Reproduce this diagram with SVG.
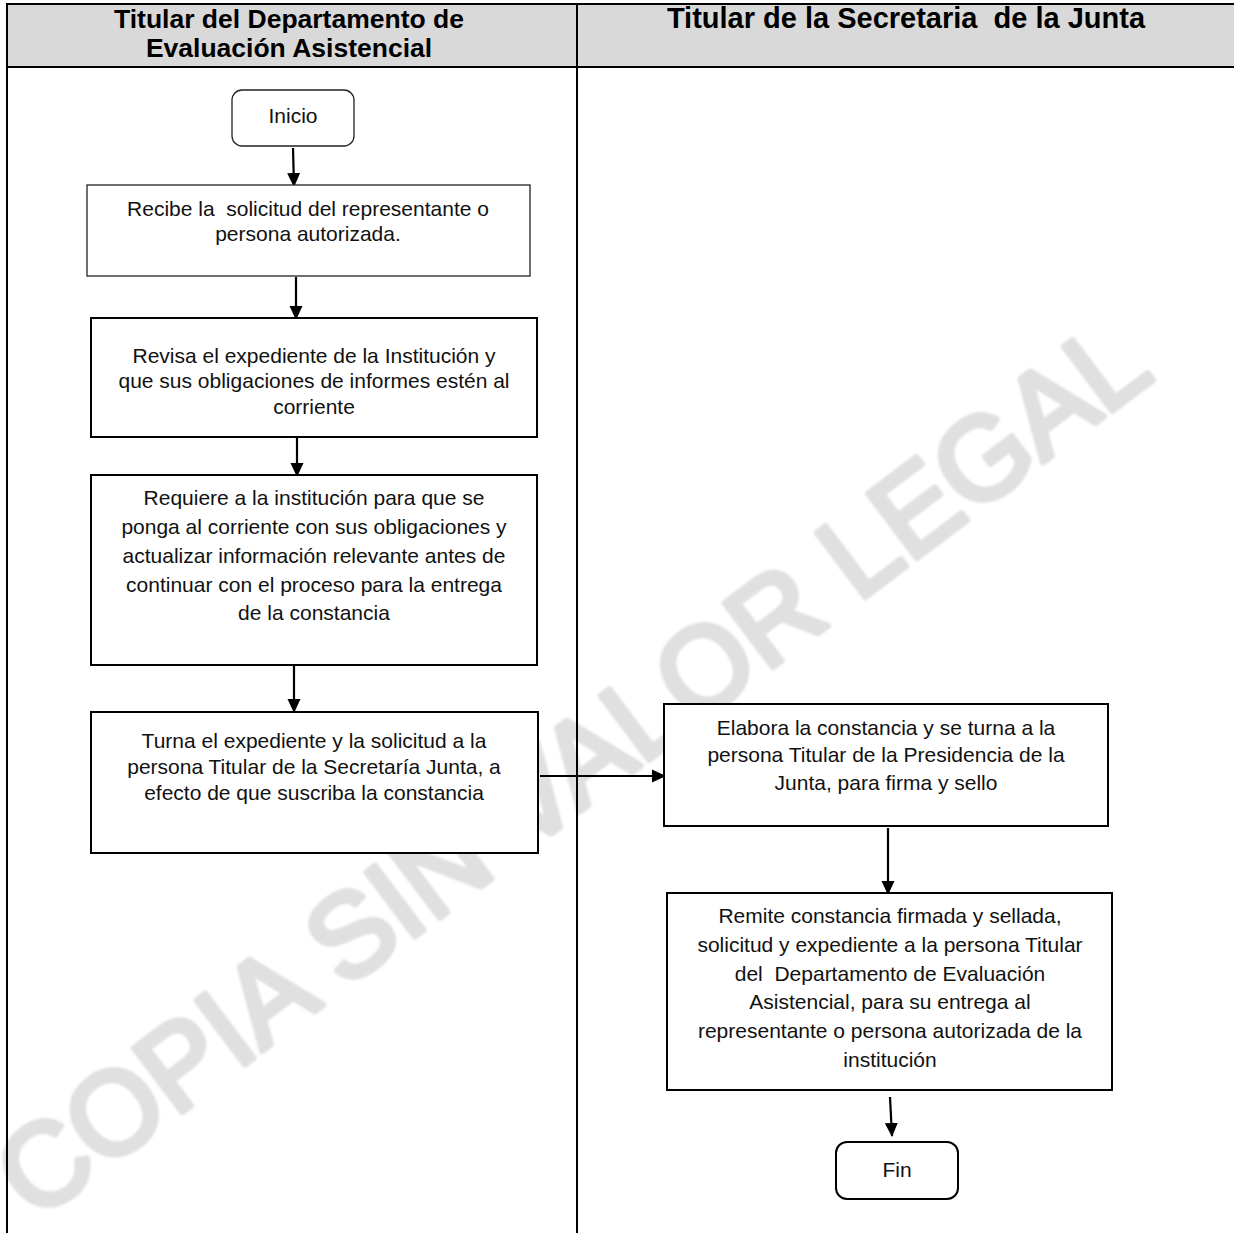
<svg xmlns="http://www.w3.org/2000/svg" width="1234" height="1233" viewBox="0 0 1234 1233">
  <style>
    .hdr { font-family: "Liberation Sans", Arial, sans-serif; font-weight: bold; fill: #000; text-anchor: middle; white-space: pre; }
    .txt { font-family: "Liberation Sans", Arial, sans-serif; font-size: 21px; fill: #111; text-anchor: middle; white-space: pre; }
    .box { fill: #fff; stroke: #000; stroke-width: 2; }
    .thin { fill: #fff; stroke: #222; stroke-width: 1.3; }
    .grid { stroke: #000; stroke-width: 2; fill: none; }
    .conn { stroke: #000; stroke-width: 2.2; fill: none; }
    .wm { font-family: "Liberation Sans", Arial, sans-serif; font-size: 116px; fill: #e0e0e0; stroke: #e0e0e0; stroke-width: 6; stroke-linejoin: round; }
  </style>
  <defs>
    <marker id="arrow" markerWidth="14" markerHeight="14" refX="13" refY="7" orient="auto" markerUnits="userSpaceOnUse">
      <path d="M0,0.5 L14,7 L0,13.5 Z" fill="#000"/>
    </marker>
    <filter id="soft" x="-5%" y="-5%" width="110%" height="110%">
      <feGaussianBlur stdDeviation="0.8"/>
    </filter>
  </defs>

  <rect x="0" y="0" width="1234" height="1233" fill="#fff"/>

  <!-- watermark -->
  <text class="wm" filter="url(#soft)" transform="translate(596,800) rotate(-37)" text-anchor="middle">COPIA SIN VALOR LEGAL</text>

  <!-- swimlane table -->
  <g id="lanes">
    <rect x="7" y="4" width="1240" height="63" fill="#d9d9d9"/>
    <line class="grid" x1="6" y1="4" x2="1234" y2="4"/>
    <line class="grid" x1="6" y1="67" x2="1234" y2="67"/>
    <line class="grid" x1="7" y1="4" x2="7" y2="1233"/>
    <line class="grid" x1="577" y1="4" x2="577" y2="1233"/>
    <text class="hdr" x="289" y="28" font-size="26.5">Titular del Departamento de</text>
    <text class="hdr" x="289" y="57" font-size="26.5">Evaluación Asistencial</text>
    <text class="hdr" x="906" y="28" font-size="29">Titular de la Secretaria  de la Junta</text>
  </g>

  <!-- connectors -->
  <g id="connectors">
    <line class="conn" x1="293" y1="148" x2="294" y2="186" marker-end="url(#arrow)"/>
    <line class="conn" x1="296" y1="277" x2="296" y2="319" marker-end="url(#arrow)"/>
    <line class="conn" x1="297" y1="438" x2="297" y2="476" marker-end="url(#arrow)"/>
    <line class="conn" x1="294" y1="666" x2="294" y2="712" marker-end="url(#arrow)"/>
    <line class="conn" x1="540" y1="776" x2="665" y2="776" marker-end="url(#arrow)"/>
    <line class="conn" x1="888" y1="828" x2="888" y2="894" marker-end="url(#arrow)"/>
    <line class="conn" x1="890" y1="1097" x2="892" y2="1136" marker-end="url(#arrow)"/>
  </g>

  <g id="inicio">
    <rect class="thin" x="232" y="90" width="122" height="56" rx="10"/>
    <text class="txt" x="293" y="123">Inicio</text>
  </g>

  <g id="recibe">
    <rect class="thin" x="87" y="185" width="443" height="91"/>
    <text class="txt" x="308" y="216">Recibe la  solicitud del representante o</text>
    <text class="txt" x="308" y="241">persona autorizada.</text>
  </g>

  <g id="revisa">
    <rect class="box" x="91" y="318" width="446" height="119"/>
    <text class="txt" x="314" y="363">Revisa el expediente de la Institución y</text>
    <text class="txt" x="314" y="388">que sus obligaciones de informes estén al</text>
    <text class="txt" x="314" y="414">corriente</text>
  </g>

  <g id="requiere">
    <rect class="box" x="91" y="475" width="446" height="190"/>
    <text class="txt" x="314" y="505">Requiere a la institución para que se</text>
    <text class="txt" x="314" y="534">ponga al corriente con sus obligaciones y</text>
    <text class="txt" x="314" y="563">actualizar información relevante antes de</text>
    <text class="txt" x="314" y="592">continuar con el proceso para la entrega</text>
    <text class="txt" x="314" y="620">de la constancia</text>
  </g>

  <g id="turna">
    <rect class="box" x="91" y="712" width="447" height="141"/>
    <text class="txt" x="314" y="748">Turna el expediente y la solicitud a la</text>
    <text class="txt" x="314" y="774">persona Titular de la Secretaría Junta, a</text>
    <text class="txt" x="314" y="800">efecto de que suscriba la constancia</text>
  </g>

  <g id="elabora">
    <rect class="box" x="664" y="704" width="444" height="122"/>
    <text class="txt" x="886" y="735">Elabora la constancia y se turna a la</text>
    <text class="txt" x="886" y="762">persona Titular de la Presidencia de la</text>
    <text class="txt" x="886" y="790">Junta, para firma y sello</text>
  </g>

  <g id="remite">
    <rect class="box" x="667" y="893" width="445" height="197"/>
    <text class="txt" x="890" y="923">Remite constancia firmada y sellada,</text>
    <text class="txt" x="890" y="952">solicitud y expediente a la persona Titular</text>
    <text class="txt" x="890" y="981">del  Departamento de Evaluación</text>
    <text class="txt" x="890" y="1009">Asistencial, para su entrega al</text>
    <text class="txt" x="890" y="1038">representante o persona autorizada de la</text>
    <text class="txt" x="890" y="1067">institución</text>
  </g>

  <g id="fin">
    <rect class="box" x="836" y="1142" width="122" height="57" rx="11"/>
    <text class="txt" x="897" y="1177">Fin</text>
  </g>
</svg>
